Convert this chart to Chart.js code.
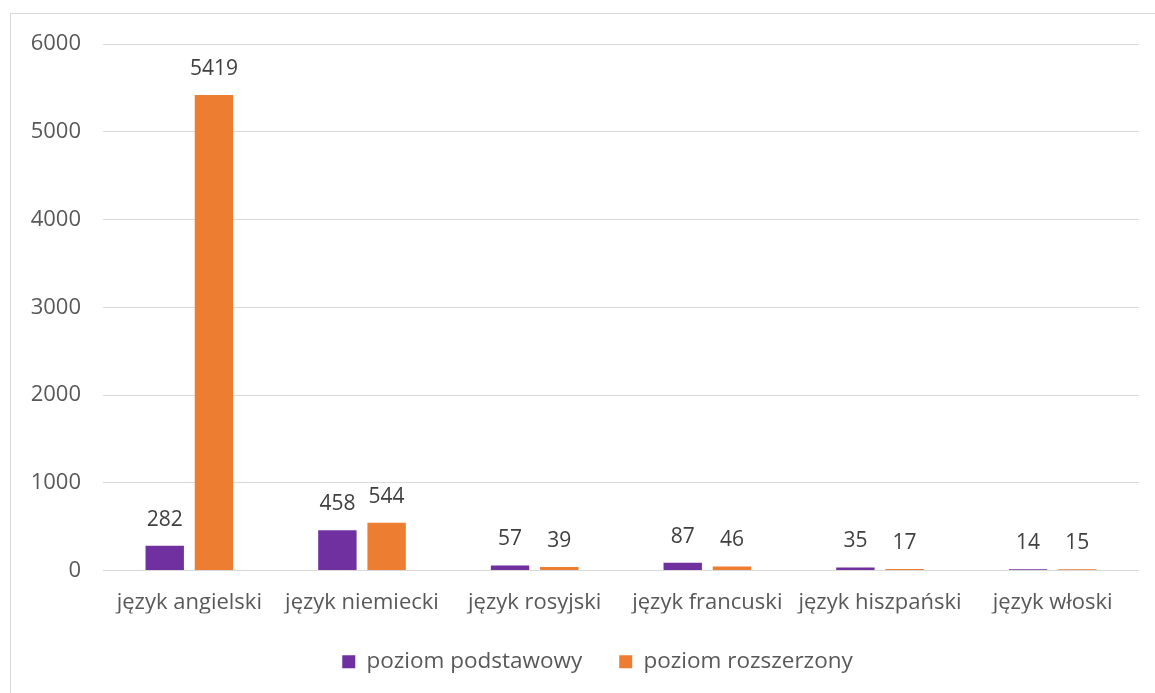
<!DOCTYPE html>
<html>
<head>
<meta charset="utf-8">
<script src="https://cdn.jsdelivr.net/npm/chart.js@4/dist/chart.umd.min.js"></script>
<style>
  html, body { margin: 0; padding: 0; background: #fff; }
  #wrap { position: relative; width: 1155px; height: 693px; overflow: hidden; }
  #frame { position: absolute; left: 10px; top: 13px; width: 1200px; height: 720px; border: 1px solid #D9D9D9; box-sizing: border-box; }
  canvas { position: absolute; left: 0; top: 0; }
</style>
</head>
<body>
<div id="wrap">
  <div id="frame"></div>
  <canvas id="c" width="1155" height="693"></canvas>
</div>
<script>
const categories = ["język angielski", "język niemiecki", "język rosyjski", "język francuski", "język hiszpański", "język włoski"];
const seriesNames = ["poziom podstawowy", "poziom rozszerzony"];
const basicValues = [282, 458, 57, 87, 35, 14];
const extendedValues = [5419, 544, 39, 46, 17, 15];
const yTicks = [0, 1000, 2000, 3000, 4000, 5000, 6000];

const FONT = "'Open Sans', sans-serif";

const valueLabels = {
  id: 'valueLabels',
  afterDatasetsDraw(chart) {
    const ctx = chart.ctx;
    ctx.save();
    ctx.font = "21px " + FONT;
    ctx.fillStyle = "#404040";
    ctx.textAlign = "center";
    ctx.textBaseline = "alphabetic";
    chart.data.datasets.forEach((ds, i) => {
      const meta = chart.getDatasetMeta(i);
      meta.data.forEach((bar, j) => {
        ctx.fillText(String(ds.data[j]), bar.x, bar.y - 20);
      });
    });
    ctx.restore();
  }
};

const legendShift = {
  id: 'legendShift',
  afterLayout(chart) {
    if (chart.legend) {
      chart.legend.left += 23;
      chart.legend.right += 23;
    }
  }
};

new Chart(document.getElementById('c'), {
  type: 'bar',
  data: {
    labels: categories,
    datasets: [
      { label: seriesNames[0], data: basicValues, backgroundColor: '#7030A0' },
      { label: seriesNames[1], data: extendedValues, backgroundColor: '#ED7D31' }
    ]
  },
  options: {
    responsive: false,
    animation: false,
    devicePixelRatio: 1,
    layout: { padding: { left: 10, top: 44, right: 16, bottom: 10 } },
    datasets: { bar: { categoryPercentage: 0.57, barPercentage: 0.78 } },
    scales: {
      x: {
        grid: { display: false, drawTicks: false },
        border: { display: false },
        ticks: { color: '#595959', font: { family: FONT, size: 22 }, padding: 19, maxRotation: 0, autoSkip: false },
        afterFit(scale) { scale.height = 43; }
      },
      y: {
        min: 0, max: 6000,
        afterBuildTicks(scale) { scale.ticks = yTicks.map(v => ({ value: v })); },
        grid: { color: '#D9D9D9', lineWidth: 1, drawTicks: false },
        border: { display: false },
        ticks: { color: '#595959', font: { family: FONT, size: 22 }, padding: 22, callback: v => String(v) },
        afterFit(scale) { scale.width = 93; }
      }
    },
    plugins: {
      legend: {
        position: 'bottom',
        labels: {
          boxWidth: 13, boxHeight: 13, padding: 37,
          color: '#595959',
          font: { family: FONT, size: 22.5 }
        }
      },
      tooltip: { enabled: false }
    }
  },
  plugins: [valueLabels, legendShift]
});
</script>
</body>
</html>
